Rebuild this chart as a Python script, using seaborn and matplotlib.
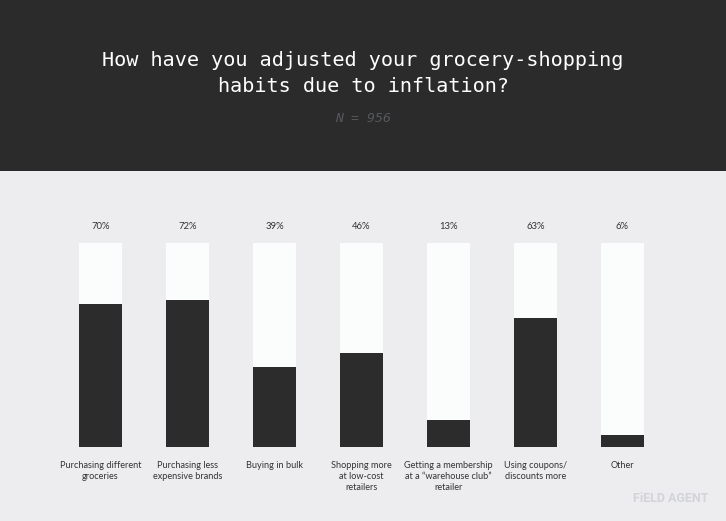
import matplotlib
matplotlib.use("Agg")
import matplotlib.pyplot as plt
import seaborn as sns
import pandas as pd
from matplotlib.patches import Rectangle

categories = [
    "Purchasing different\ngroceries",
    "Purchasing less\nexpensive brands",
    "Buying in bulk",
    "Shopping more\nat low-cost\nretailers",
    "Getting a membership\nat a \u201cwarehouse club\u201d\nretailer",
    "Using coupons/\ndiscounts more",
    "Other",
]
values = [70, 72, 39, 46, 13, 63, 6]
full = [100] * len(values)
tick_labels = [f"{v}%" for v in values]

title_lines = ["How have you adjusted your grocery-shopping", "habits due to inflation?"]
subtitle = "N = 956"

BG = "#ededf0"
HEADER = "#2b2b2b"
DARK = "#2c2c2c"
WHITE = "#fbfcfc"

sns.set_theme(style="white")
plt.rcParams["font.family"] = ["Lato", "DejaVu Sans"]

W, H = 726, 521
fig = plt.figure(figsize=(W / 100, H / 100), dpi=100)
fig.patch.set_facecolor(BG)

# header band
fig.patches.append(Rectangle((0, 1 - 171 / H), 1, 171 / H, transform=fig.transFigure,
                             facecolor=HEADER, edgecolor="none", zorder=0))

fig.text(0.5, 1 - 60 / H, title_lines[0], ha="center", va="center",
         color="white", fontsize=14.5, family="DejaVu Sans Mono")
fig.text(0.5, 1 - 86 / H, title_lines[1], ha="center", va="center",
         color="white", fontsize=14.5, family="DejaVu Sans Mono")
fig.text(0.5, 1 - 118 / H, subtitle, ha="center", va="center", color="#55585d",
         fontsize=9.5, family="DejaVu Sans Mono", style="italic")

left = 57 / W
right = 666 / W
bottom = 1 - 447 / H
top = 1 - 243 / H
ax = fig.add_axes([left, bottom, right - left, top - bottom])
ax.set_facecolor("none")

df = pd.DataFrame({"category": categories, "value": values, "full": full})
sns.barplot(data=df, x="category", y="full", color=WHITE, width=0.5, ax=ax,
            saturation=1, edgecolor="none")
sns.barplot(data=df, x="category", y="value", color=DARK, width=0.5, ax=ax,
            saturation=1, edgecolor="none")

ax.set_xlim(-0.5, len(categories) - 0.5)
ax.set_ylim(0, 100)
ax.set_xlabel("")
ax.set_ylabel("")
ax.set_yticks([])
ax.set_xticks([])
for s in ax.spines.values():
    s.set_visible(False)

for i, (cat, lab) in enumerate(zip(categories, tick_labels)):
    ax.annotate(lab, (i, 100), xytext=(0, 17), textcoords="offset pixels",
                ha="center", va="center", fontsize=6.8, color="#333333", annotation_clip=False)
    ax.annotate(cat, (i, 0), xytext=(0, -14), textcoords="offset pixels",
                ha="center", va="top", fontsize=6.6, color="#333333", linespacing=1.25,
                annotation_clip=False)

fig.text(708 / W, 1 - 498 / H, "FiELD AGENT", ha="right", va="center", color="#d3d4d8",
         fontsize=9, fontweight="bold", family=["Roboto", "DejaVu Sans"])

fig.savefig("out.png", dpi=100, facecolor=BG)
